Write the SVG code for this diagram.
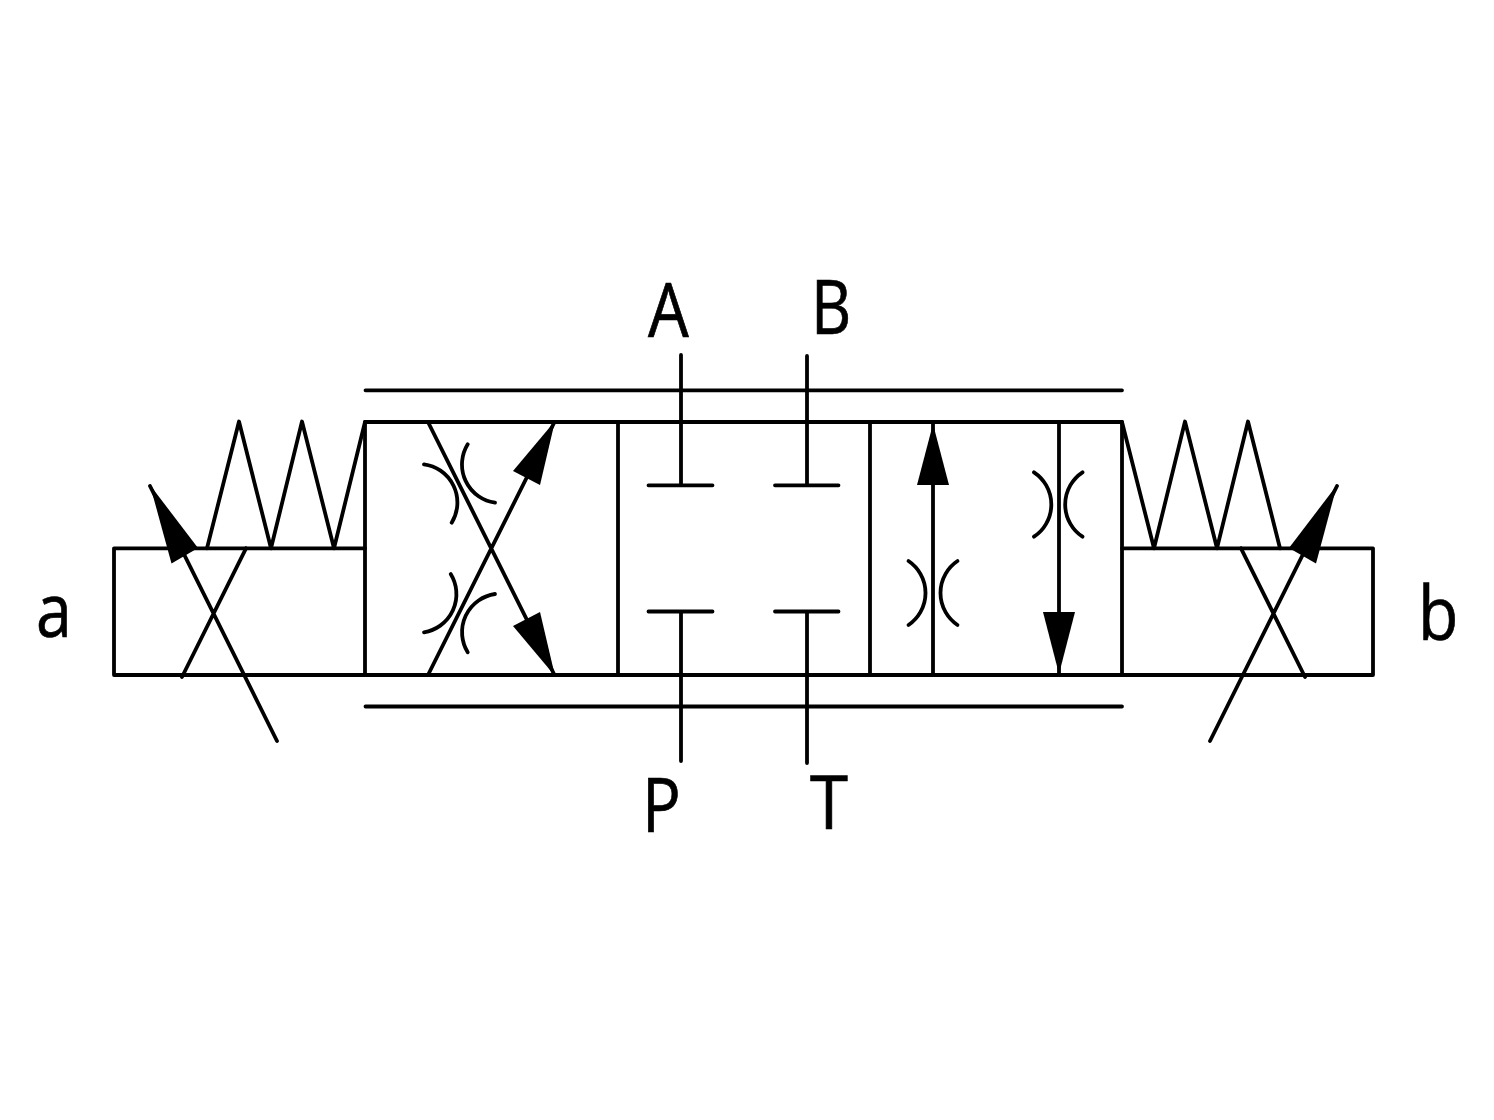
<svg xmlns="http://www.w3.org/2000/svg" width="1494" height="1120" viewBox="0 0 1494 1120">
<style>
.l{fill:none;stroke:#000;stroke-width:3.800;stroke-linecap:round;stroke-linejoin:round}
.h{fill:#000;stroke:none}
.t{font-family:"Open Sans","Liberation Sans",sans-serif;font-size:75px;fill:#000;stroke:#000;stroke-width:.7}
</style>
<rect width="1494" height="1120" fill="#fff"/>
<g id="connectors">
<path class="l" d="M365.500 390.300H1122M365.500 706.500H1122"/>
<path class="l" d="M681 355V485.300M648.500 485.300H712.500M807 356V485.300M775 485.300H838.500"/>
<path class="l" d="M681 761V611.500M648.500 611.500H712.500M807 763V611.500M775 611.500H838.500"/>
</g>
<g id="valve-body">
<path class="l" d="M365 422H1122V675H365ZM618 422V675M870 422V675"/>
</g>
<g id="actuator-a">
<path class="l" d="M365 548.300H114V675H365"/>
<path class="l" d="M207 548.300L239 421.500L271 548.300L302 421.500L334 548.300L365 422"/>
<path class="l" d="M246 548.300L182 677M277 741L150 486"/>
<path class="h" d="M150 485L198 548L171.500 563.500Z"/>
</g>
<g id="actuator-b">
<path class="l" d="M1122 548.300H1373V675H1122"/>
<path class="l" d="M1122 422L1154 548.300L1185 421.500L1217 548.300L1248 421.500L1280 548.300"/>
<path class="l" d="M1241 548.300L1305 677M1210 741L1337 486"/>
<path class="h" d="M1337 485L1289 548L1316 563.500Z"/>
</g>
<g id="position-left">
<path class="l" d="M428 422L554 674M428 675L554 423"/>
<path class="h" d="M555 421L513 471L540 485Z"/>
<path class="h" d="M555 676L513 626L540 612Z"/>
<path class="l" d="M424 464.300A38.600 38.600 0 0 1 451.700 522.700M467.700 444.300A38.600 38.600 0 0 0 495 502.700"/>
<path class="l" d="M450.700 574A38.600 38.600 0 0 1 424 632.300M495 594A38.600 38.600 0 0 0 467.700 652.300"/>
</g>
<g id="position-right">
<path class="l" d="M933 422V675M1059 422V675"/>
<path class="h" d="M933 424L949 485H917Z"/>
<path class="h" d="M1059 674L1043 612H1075Z"/>
<path class="l" d="M908.500 561A38.600 38.600 0 0 1 908.500 625M957.500 561A38.600 38.600 0 0 0 957.500 625"/>
<path class="l" d="M1034 472.300A38.600 38.600 0 0 1 1034 536.700M1082.500 472.300A38.600 38.600 0 0 0 1082.500 536.700"/>
</g>
<g id="labels">
<text class="t" transform="translate(648 337) scale(.86 1)">A</text>
<text class="t" transform="translate(811 334) scale(.83 1)">B</text>
<text class="t" transform="translate(642 832) scale(.86 1)">P</text>
<text class="t" transform="translate(810 829) scale(.92 1)">T</text>
<text class="t" transform="translate(36 637) scale(.86 1)">a</text>
<text class="t" transform="translate(1418 640) scale(.88 1)">b</text>
</g>
</svg>
